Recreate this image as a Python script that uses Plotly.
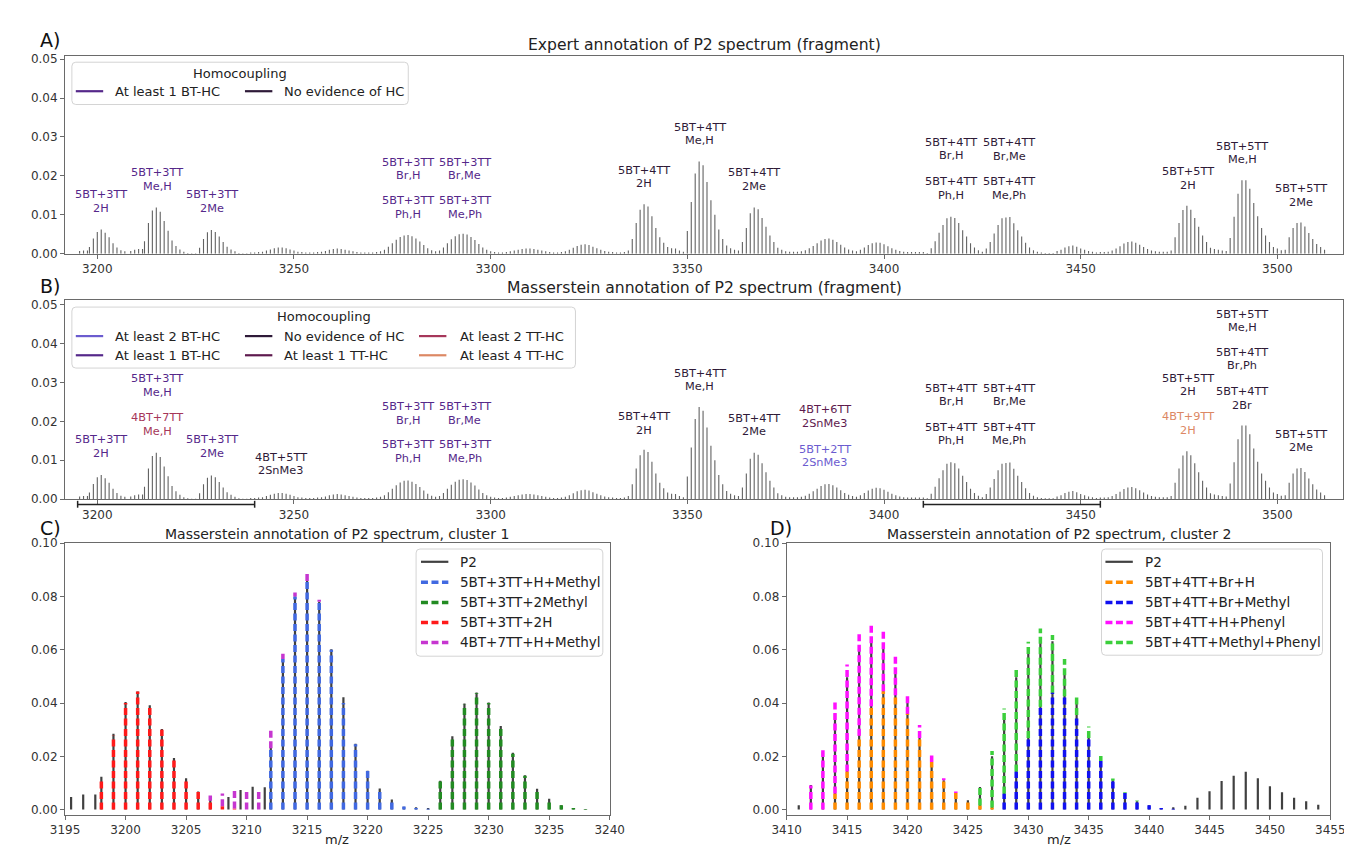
import plotly.graph_objects as go

W, H = 1352, 845
FONT = "DejaVu Sans"


def PX(x):
    return x / W


def PY(y):
    return 1 - y / H


# ---------------------------------------------------------------- data
# P2 spectrum (panels A and B), one stem per m/z from spec_start
spec_start = 3198
spec_int = [
    0.0017, 0.0039, 0.0056, 0.0062, 0.0054, 0.0042, 0.0027, 0.0016, 0.0009, 0.0006,
    0, 0, 0, 0, 0.0032, 0.0079, 0.0111, 0.0119, 0.0108, 0.0084,
    0.0059, 0.0034, 0.0020, 0.0011, 0.0005, 0.0002, 0.0001, 0.0001, 0.0015, 0.0038,
    0.0055, 0.0061, 0.0056, 0.0044, 0.0030, 0.0018, 0.0011, 0.0006, 0.0002, 0.0001,
    0.0001, 0.0003, 0.0003, 0.0004, 0.0005, 0.0008, 0.0011, 0.0014, 0.0016, 0.0016,
    0.0014, 0.0011, 0.0008, 0.0005, 0.0004, 0.0003, 0.0003, 0.0003, 0.0004, 0.0005,
    0.0007, 0.0010, 0.0012, 0.0013, 0.0012, 0.0010, 0.0008, 0.0006, 0.0004, 0.0003,
    0.0003, 0.0003, 0.0003, 0.0004, 0.0006, 0.0010, 0.0018, 0.0027, 0.0036, 0.0043,
    0.0047, 0.0048, 0.0045, 0.0039, 0.0031, 0.0022, 0.0014, 0.0009, 0.0006, 0.0008,
    0.0016, 0.0027, 0.0037, 0.0045, 0.0050, 0.0051, 0.0049, 0.0043, 0.0035, 0.0025,
    0.0016, 0.0010, 0.0006, 0.0004, 0.0003, 0.0003, 0.0004, 0.0006, 0.0008, 0.0010,
    0.0012, 0.0013, 0.0013, 0.0012, 0.0010, 0.0008, 0.0006, 0.0004, 0.0003, 0.0003,
    0.0004, 0.0006, 0.0010, 0.0015, 0.0020, 0.0023, 0.0024, 0.0022, 0.0018, 0.0014,
    0.0010, 0.0007, 0.0005, 0.0004, 0.0003, 0.0003, 0.0004, 0.0008, 0.0038, 0.0079,
    0.0113, 0.0127, 0.0121, 0.0096, 0.0066, 0.0042, 0.0028, 0.0017, 0.0014, 0.0013,
    0.0008, 0.0005, 0.0058, 0.0133, 0.0206, 0.0237, 0.0227, 0.0184, 0.0137, 0.0100,
    0.0062, 0.0038, 0.0021, 0.0014, 0.0010, 0.0008, 0.0030, 0.0066, 0.0104, 0.0119,
    0.0114, 0.0092, 0.0069, 0.0047, 0.0030, 0.0015, 0.0010, 0.0006, 0.0005, 0.0005,
    0.0005, 0.0006, 0.0009, 0.0014, 0.0020, 0.0027, 0.0034, 0.0038, 0.0039, 0.0036,
    0.0030, 0.0023, 0.0016, 0.0011, 0.0008, 0.0006, 0.0010, 0.0016, 0.0022, 0.0027,
    0.0029, 0.0028, 0.0024, 0.0019, 0.0014, 0.0010, 0.0007, 0.0005, 0.0004, 0.0004,
    0.0004, 0.0004, 0.0004, 0.0002, 0.0014, 0.0032, 0.0054, 0.0074, 0.0091, 0.0095,
    0.0092, 0.0079, 0.0060, 0.0044, 0.0027, 0.0016, 0.0009, 0.0005, 0.0013, 0.0030,
    0.0052, 0.0074, 0.0091, 0.0093, 0.0094, 0.0078, 0.0060, 0.0044, 0.0028, 0.0016,
    0.0009, 0.0005, 0.0003, 0.0002, 0.0002, 0.0002, 0.0007, 0.0010, 0.0016, 0.0019,
    0.0021, 0.0018, 0.0013, 0.0010, 0.0007, 0.0005, 0.0003, 0.0004, 0.0004, 0.0005,
    0.0008, 0.0013, 0.0019, 0.0026, 0.0030, 0.0031, 0.0028, 0.0023, 0.0017, 0.0012,
    0.0008, 0.0006, 0.0005, 0.0005, 0.0005, 0.0008, 0.0042, 0.0079, 0.0112, 0.0123,
    0.0113, 0.0092, 0.0069, 0.0047, 0.0030, 0.0015, 0.0012, 0.0010, 0.0008, 0.0007,
    0.0040, 0.0095, 0.0154, 0.0189, 0.0189, 0.0167, 0.0130, 0.0096, 0.0066, 0.0047,
    0.0030, 0.0017, 0.0013, 0.0009, 0.0010, 0.0042, 0.0066, 0.0079, 0.0080, 0.0070,
    0.0053, 0.0038, 0.0025, 0.0017, 0.0010,
]
extra_mz = [3195.5, 3196.5, 3197.5, 3208.5, 3209.5, 3210.5, 3211.5]
extra_int = [0.0007, 0.0008, 0.0008, 0.0007, 0.0010, 0.0012, 0.0012]

# Panel A labels (expert annotation)
a_lab_mz = [3201, 3215.2, 3229.1, 3279.0, 3279.0, 3293.4, 3293.4, 3339, 3353.1,
            3367, 3417, 3417, 3431.9, 3431.9, 3477.2, 3491.1, 3506]
a_lab_y = [0.0134, 0.0191, 0.0134, 0.0218, 0.0119, 0.0218, 0.0119, 0.0197, 0.0307,
           0.0191, 0.0269, 0.0168, 0.0268, 0.0168, 0.0193, 0.0259, 0.0149]
a_lab_text = ["5BT+3TT|2H", "5BT+3TT|Me,H", "5BT+3TT|2Me", "5BT+3TT|Br,H",
              "5BT+3TT|Ph,H", "5BT+3TT|Br,Me", "5BT+3TT|Me,Ph", "5BT+4TT|2H",
              "5BT+4TT|Me,H", "5BT+4TT|2Me", "5BT+4TT|Br,H", "5BT+4TT|Ph,H",
              "5BT+4TT|Br,Me", "5BT+4TT|Me,Ph", "5BT+5TT|2H", "5BT+5TT|Me,H",
              "5BT+5TT|2Me"]
a_lab_cls = ["bt1"] * 7 + ["none"] * 10

# Panel B labels (Masserstein annotation)
b_lab_mz = [3201, 3215.2, 3215.2, 3229.1, 3246.7, 3279.0, 3279.0, 3293.4, 3293.4,
            3339, 3353.1, 3367, 3385, 3385, 3417, 3417, 3431.9, 3431.9, 3477.2,
            3477.2, 3491.1, 3491.1, 3491.1, 3506]
b_lab_y = [0.0135, 0.0192, 0.0292, 0.0135, 0.0090, 0.0220, 0.0122, 0.0220, 0.0122,
           0.0194, 0.0306, 0.0191, 0.0212, 0.0111, 0.0268, 0.0168, 0.0268, 0.0168,
           0.0293, 0.0194, 0.0458, 0.0360, 0.0259, 0.0149]
b_lab_text = ["5BT+3TT|2H", "4BT+7TT|Me,H", "5BT+3TT|Me,H", "5BT+3TT|2Me",
              "4BT+5TT|2SnMe3", "5BT+3TT|Br,H", "5BT+3TT|Ph,H", "5BT+3TT|Br,Me",
              "5BT+3TT|Me,Ph", "5BT+4TT|2H", "5BT+4TT|Me,H", "5BT+4TT|2Me",
              "4BT+6TT|2SnMe3", "5BT+2TT|2SnMe3", "5BT+4TT|Br,H", "5BT+4TT|Ph,H",
              "5BT+4TT|Br,Me", "5BT+4TT|Me,Ph", "5BT+5TT|2H", "4BT+9TT|2H",
              "5BT+5TT|Me,H", "5BT+4TT|Br,Ph", "5BT+4TT|2Br", "5BT+5TT|2Me"]
b_lab_cls = ["bt1", "tt2", "bt1", "bt1", "none", "bt1", "bt1", "bt1", "bt1",
             "none", "none", "none", "tt1", "bt2", "none", "none", "none", "none",
             "none", "tt4", "none", "none", "none", "none"]

hc_names = {"bt2": "At least 2 BT-HC", "bt1": "At least 1 BT-HC",
            "none": "No evidence of HC", "tt1": "At least 1 TT-HC",
            "tt2": "At least 2 TT-HC", "tt4": "At least 4 TT-HC"}
hc_colors = {"bt2": "#6b5ccf", "bt1": "#55288a", "none": "#2e1a38",
             "tt1": "#5e1a4e", "tt2": "#a6375a", "tt4": "#dc8864"}

# Cluster ranges (panels C and D)
cluster1_range = [3195, 3240]
cluster2_range = [3410, 3455]

# Panel C: cluster 1
c_p2_mz = [3195.5, 3196.5, 3197.5, 3198, 3199, 3200, 3201, 3202, 3203, 3204, 3205,
           3206, 3207, 3208.5, 3209.5, 3210.5, 3211.5, 3212, 3213, 3214, 3215, 3216,
           3217, 3218, 3219, 3220, 3221, 3222, 3223, 3224, 3225, 3226, 3227, 3228,
           3229, 3230, 3231, 3232, 3233, 3234, 3235, 3236, 3237, 3238]
c_p2_int = [0.0047, 0.0057, 0.0057, 0.0123, 0.0285, 0.0404, 0.0443, 0.0392, 0.0302,
            0.0194, 0.0118, 0.0068, 0.0045, 0.0047, 0.0074, 0.0086, 0.0084, 0.0235,
            0.0568, 0.0800, 0.0858, 0.0780, 0.0602, 0.0422, 0.0247, 0.0146, 0.0079,
            0.0038, 0.0011, 0.0009, 0.0006, 0.0108, 0.0275, 0.0398, 0.0439, 0.0402,
            0.0314, 0.0213, 0.0129, 0.0078, 0.0041, 0.0016, 0.0006, 0.0002]
c_names = ["5BT+3TT+H+Methyl", "5BT+3TT+2Methyl", "5BT+3TT+2H", "4BT+7TT+H+Methyl"]
c_colors = ["#4169e1", "#228b22", "#ff1a1a", "#c636d0"]
c_starts = [3212, 3226, 3198, 3207]
c_vals = [
    [0.0230, 0.0565, 0.0800, 0.0858, 0.0780, 0.0600, 0.0400, 0.0245, 0.0145, 0.0078,
     0.0037, 0.0012, 0.0006, 0.0003],
    [0.0105, 0.0268, 0.0395, 0.0437, 0.0400, 0.0310, 0.0210, 0.0127, 0.0075, 0.0039,
     0.0016, 0.0006, 0.0002],
    [0.0115, 0.0277, 0.0400, 0.0443, 0.0392, 0.0300, 0.0192, 0.0115, 0.0066, 0.0033,
     0.0013, 0.0004],
    [0.0020, 0.0047, 0.0071, 0.0072, 0.0068, 0.0067, 0.0020, 0.0015, 0.0026, 0.0007],
]

# Panel D: cluster 2
d_p2_start = 3411
d_p2_int = [0.0016, 0.0092, 0.0215, 0.0360, 0.0497, 0.0607, 0.0639, 0.0614, 0.0530,
            0.0404, 0.0293, 0.0182, 0.0110, 0.0062, 0.0035, 0.0085, 0.0200, 0.0347,
            0.0497, 0.0607, 0.0625, 0.0632, 0.0522, 0.0400, 0.0293, 0.0190, 0.0110,
            0.0062, 0.0031, 0.0016, 0.0006, 0.0009, 0.0014, 0.0044, 0.0069, 0.0107,
            0.0127, 0.0142, 0.0118, 0.0088, 0.0065, 0.0044, 0.0031, 0.0018]
d_names = ["5BT+4TT+Br+H", "5BT+4TT+Br+Methyl", "5BT+4TT+H+Phenyl",
           "5BT+4TT+Methyl+Phenyl"]
d_colors = ["#ff8c00", "#1010f0", "#ff10ff", "#3ccf3c"]
d_starts = [3414, 3428, 3412, 3426]
d_vals = [
    [0.0060, 0.0143, 0.0277, 0.0388, 0.0444, 0.0429, 0.0360, 0.0269, 0.0179, 0.0110,
     0.0062, 0.0035, 0.0015, 0.0008],
    [0.0060, 0.0143, 0.0269, 0.0386, 0.0439, 0.0425, 0.0355, 0.0269, 0.0182, 0.0108,
     0.0062, 0.0031, 0.0016, 0.0006, 0.0003],
    [0.0090, 0.0223, 0.0348, 0.0401, 0.0383, 0.0312, 0.0228, 0.0148, 0.0072, 0.0048,
     0.0024, 0.0008, 0.0006],
    [0.0077, 0.0212, 0.0319, 0.0381, 0.0361, 0.0294, 0.0216, 0.0140, 0.0070, 0.0043,
     0.0019, 0.0009, 0.0003, 0.0003],
]

# ---------------------------------------------------------------- helpers
P2_GREY = "#404040"
DASH = "7px,3.5px"


def stems(mz, vals):
    xs, ys = [], []
    for m, v in zip(mz, vals):
        xs += [m, m, None]
        ys += [0, v, None]
    return xs, ys


def stacked(starts, values):
    base = {}
    out = []
    for st, vals in zip(starts, values):
        xs, ys = [], []
        for i, v in enumerate(vals):
            m = st + i
            b = base.get(m, 0.0)
            xs += [m, m, None]
            ys += [b, b + v, None]
            base[m] = b + v
        out.append((xs, ys))
    return out


def txt(x, y, s, size, color, xanchor="center", yanchor="middle",
        xref="paper", yref="paper", yshift=0):
    return dict(x=x, y=y, text=s, showarrow=False, xref=xref, yref=yref,
                xanchor=xanchor, yanchor=yanchor, yshift=yshift,
                font=dict(family=FONT, size=size, color=color))


def rrect(x0, y0, x1, y1, r=4):
    rx, ry = r / W, r / H
    X0, X1, Y0, Y1 = PX(x0), PX(x1), PY(y0), PY(y1)
    return (f"M {X0+rx},{Y0} L {X1-rx},{Y0} Q {X1},{Y0} {X1},{Y0-ry} "
            f"L {X1},{Y1+ry} Q {X1},{Y1} {X1-rx},{Y1} L {X0+rx},{Y1} "
            f"Q {X0},{Y1} {X0},{Y1+ry} L {X0},{Y0-ry} Q {X0},{Y0} {X0+rx},{Y0} Z")


fig = go.Figure()
spec_mz = [spec_start + i for i in range(len(spec_int))] + extra_mz
spec_all = spec_int + extra_int
sx, sy = stems(spec_mz, spec_all)
for xa, ya in (("x", "y"), ("x2", "y2")):
    fig.add_trace(go.Scatter(x=sx, y=sy, mode="lines", xaxis=xa, yaxis=ya,
                             line=dict(color="#626262", width=1.1),
                             hoverinfo="skip", showlegend=False))

# Panel C
cx, cy = stems(c_p2_mz, c_p2_int)
fig.add_trace(go.Scatter(x=cx, y=cy, mode="lines", xaxis="x3", yaxis="y3",
                         line=dict(color=P2_GREY, width=2.2), name="P2",
                         showlegend=False))
for (xs, ys), col, nm in zip(stacked(c_starts, c_vals), c_colors, c_names):
    fig.add_trace(go.Scatter(x=xs, y=ys, mode="lines", xaxis="x3", yaxis="y3",
                             line=dict(color=col, width=3.5, dash=DASH), name=nm,
                             showlegend=False))

# Panel D
d_mz = [d_p2_start + i for i in range(len(d_p2_int))]
dx, dy = stems(d_mz, d_p2_int)
fig.add_trace(go.Scatter(x=dx, y=dy, mode="lines", xaxis="x4", yaxis="y4",
                         line=dict(color=P2_GREY, width=2.2), name="P2",
                         showlegend=False))
for (xs, ys), col, nm in zip(stacked(d_starts, d_vals), d_colors, d_names):
    fig.add_trace(go.Scatter(x=xs, y=ys, mode="lines", xaxis="x4", yaxis="y4",
                             line=dict(color=col, width=3.5, dash=DASH), name=nm,
                             showlegend=False))

annotations = []
shapes = []

# Peak labels
LAB = 11.3
for xr, yr, mzs, ys, texts, cls in (("x", "y", a_lab_mz, a_lab_y, a_lab_text, a_lab_cls),
                                    ("x2", "y2", b_lab_mz, b_lab_y, b_lab_text, b_lab_cls)):
    for m, yv, t, c in zip(mzs, ys, texts, cls):
        l1, l2 = t.split("|")
        col = hc_colors[c]
        annotations.append(txt(m, yv, l1, LAB, col, xref=xr, yref=yr, yshift=6.7))
        annotations.append(txt(m, yv, l2, LAB, col, xref=xr, yref=yr, yshift=-6.7))

# Titles and panel letters
annotations += [
    txt(PX(697), PY(30), "Expert annotation of P2 spectrum (fragment)", 15.6, "#222"),
    txt(PX(697), PY(278), "Masserstein annotation of P2 spectrum (fragment)", 15.6, "#222"),
    txt(PX(321.5), PY(528), "Masserstein annotation of P2 spectrum, cluster 1", 14, "#222"),
    txt(PX(1059), PY(528), "Masserstein annotation of P2 spectrum, cluster 2", 14, "#222"),
    txt(PX(15), PY(25), "A)", 19, "#111", xanchor="left"),
    txt(PX(15), PY(276), "B)", 19, "#111", xanchor="left"),
    txt(PX(15), PY(522), "C)", 19, "#111", xanchor="left"),
    txt(PX(762), PY(522), "D)", 19, "#111", xanchor="left"),
    txt(PX(321.5), PY(838), "m/z", 13, "#222"),
    txt(PX(1059), PY(838), "m/z", 13, "#222"),
]


def legend_box(x0, y0, x1, y1):
    shapes.append(dict(type="path", path=rrect(x0, y0, x1, y1), xref="paper",
                       yref="paper", line=dict(color="#d4d4d4", width=1),
                       fillcolor="rgba(255,255,255,0.85)", layer="above"))


def legend_entry(x0, y, color, label, size, width=2.2, dash=None, ln=28, gap=10):
    line = dict(color=color, width=width)
    if dash:
        line["dash"] = dash
    shapes.append(dict(type="line", x0=PX(x0), x1=PX(x0 + ln), y0=PY(y), y1=PY(y),
                       xref="paper", yref="paper", line=line, layer="above"))
    annotations.append(txt(PX(x0 + ln + gap), PY(y), label, size, "#222",
                           xanchor="left"))


# Legend A
legend_box(50, 48, 394, 91)
annotations.append(txt(PX(222), PY(59), "Homocoupling", 13, "#222"))
legend_entry(54, 77.5, hc_colors["bt1"], hc_names["bt1"], 13)
legend_entry(227, 77.5, hc_colors["none"], hc_names["none"], 13)

# Legend B
legend_box(50, 297, 565, 359)
annotations.append(txt(PX(307.5), PY(307), "Homocoupling", 13, "#222"))
b_leg_cols = [["bt2", "bt1"], ["none", "tt1"], ["tt2", "tt4"]]
b_leg_x = [54, 227, 405]
for colx, keys in zip(b_leg_x, b_leg_cols):
    for rowy, k in zip([326.5, 346], keys):
        legend_entry(colx, rowy, hc_colors[k], hc_names[k], 13,
                     gap=10 if colx < 400 else 12)

# Legend C
legend_box(402, 543, 593, 652)
leg_rows = [556, 576.7, 597.3, 617.7, 638]
legend_entry(407, leg_rows[0], P2_GREY, "P2", 13.5, width=2.2)
for ry, col, nm in zip(leg_rows[1:], c_colors, c_names):
    legend_entry(407, ry, col, nm, 13.5, width=3.5, dash=DASH)

# Legend D
legend_box(1103, 543, 1329, 651)
legend_entry(1107, leg_rows[0], P2_GREY, "P2", 13.5, width=2.2)
for ry, col, nm in zip(leg_rows[1:], d_colors, d_names):
    legend_entry(1107, ry, col, nm, 13.5, width=3.5, dash=DASH)

# Cluster brackets under panel B
for rng in (cluster1_range, cluster2_range):
    shapes.append(dict(type="line", x0=rng[0], x1=rng[1], y0=PY(497.7), y1=PY(497.7),
                       xref="x2", yref="paper", line=dict(color="#222", width=1.5)))
    for xe in rng:
        shapes.append(dict(type="line", x0=xe, x1=xe, y0=PY(494), y1=PY(501),
                           xref="x2", yref="paper", line=dict(color="#222", width=1.5)))

axis_style = dict(showline=True, mirror=True, linecolor="#6a6a6a", linewidth=1,
                  ticks="outside", ticklen=4, tickcolor="#6a6a6a", showgrid=False,
                  zeroline=False, tickfont=dict(family=FONT, size=12, color="#333"))

fig.update_layout(
    width=W, height=H, margin=dict(l=0, r=0, t=0, b=0),
    paper_bgcolor="white", plot_bgcolor="white", showlegend=False,
    xaxis=dict(domain=[PX(43), PX(1350)], range=[3191.8, 3516.7], anchor="y",
               dtick=50, tick0=3200, **axis_style),
    yaxis=dict(domain=[PY(242.7), PY(41.7)], range=[0, 0.0508], anchor="x",
               dtick=0.01, tick0=0, tickformat=".2f", **axis_style),
    xaxis2=dict(domain=[PX(43), PX(1350)], range=[3191.8, 3516.7], anchor="y2",
                dtick=50, tick0=3200, **axis_style),
    yaxis2=dict(domain=[PY(492.3), PY(289.3)], range=[0, 0.0513], anchor="x2",
                dtick=0.01, tick0=0, tickformat=".2f", **axis_style),
    xaxis3=dict(domain=[PX(43), PX(600)], range=cluster1_range, anchor="y3",
                dtick=5, tick0=3195, **axis_style),
    yaxis3=dict(domain=[PY(813), PY(537)], range=[-0.00185, 0.1], anchor="x3",
                dtick=0.02, tick0=0, tickformat=".2f", **axis_style),
    xaxis4=dict(domain=[PX(781), PX(1337)], range=cluster2_range, anchor="y4",
                dtick=5, tick0=3410, **axis_style),
    yaxis4=dict(domain=[PY(813), PY(537)], range=[-0.00185, 0.1], anchor="x4",
                dtick=0.02, tick0=0, tickformat=".2f", **axis_style),
    annotations=annotations,
    shapes=shapes,
)

fig.write_html("out.html")
